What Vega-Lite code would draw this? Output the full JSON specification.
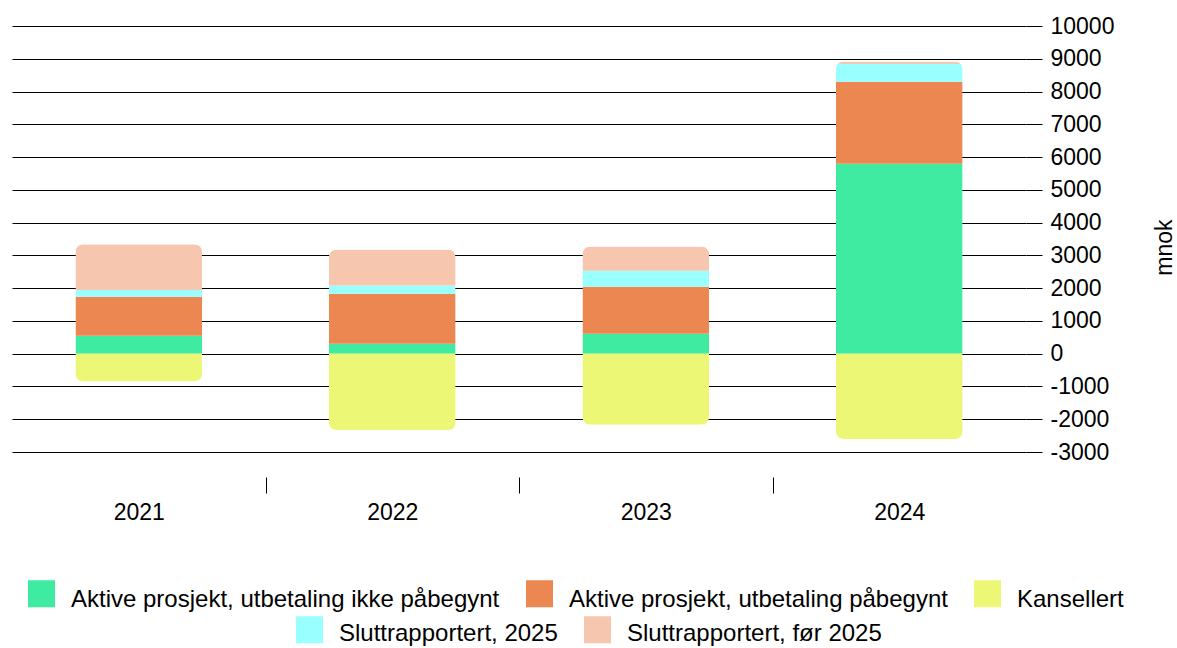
{
  "$schema": "https://vega.github.io/schema/vega-lite/v6.json",
  "width": 1014,
  "height": 426,
  "autosize": {"type": "none"},
  "padding": {"left": 12, "top": 26, "right": 151, "bottom": 196},
  "data": {
    "values": [
      {"year": "2021", "series": "Aktive prosjekt, utbetaling ikke påbegynt", "value": 550},
      {"year": "2021", "series": "Aktive prosjekt, utbetaling påbegynt", "value": 1190},
      {"year": "2021", "series": "Sluttrapportert, 2025", "value": 200},
      {"year": "2021", "series": "Sluttrapportert, før 2025", "value": 1400},
      {"year": "2021", "series": "Kansellert", "value": -850},
      {"year": "2022", "series": "Aktive prosjekt, utbetaling ikke påbegynt", "value": 300},
      {"year": "2022", "series": "Aktive prosjekt, utbetaling påbegynt", "value": 1530},
      {"year": "2022", "series": "Sluttrapportert, 2025", "value": 250},
      {"year": "2022", "series": "Sluttrapportert, før 2025", "value": 1100},
      {"year": "2022", "series": "Kansellert", "value": -2340},
      {"year": "2023", "series": "Aktive prosjekt, utbetaling ikke påbegynt", "value": 610},
      {"year": "2023", "series": "Aktive prosjekt, utbetaling påbegynt", "value": 1430},
      {"year": "2023", "series": "Sluttrapportert, 2025", "value": 490},
      {"year": "2023", "series": "Sluttrapportert, før 2025", "value": 740},
      {"year": "2023", "series": "Kansellert", "value": -2170},
      {"year": "2024", "series": "Aktive prosjekt, utbetaling ikke påbegynt", "value": 5800},
      {"year": "2024", "series": "Aktive prosjekt, utbetaling påbegynt", "value": 2500},
      {"year": "2024", "series": "Sluttrapportert, 2025", "value": 540},
      {"year": "2024", "series": "Sluttrapportert, før 2025", "value": 80},
      {"year": "2024", "series": "Kansellert", "value": -2600}
    ]
  },
  "encoding": {
    "x": {
      "field": "year",
      "type": "nominal",
      "scale": {"paddingInner": 0, "paddingOuter": 0},
      "axis": {
        "title": null,
        "labelAngle": 0,
        "domain": false,
        "offset": 25,
        "tickSize": 16,
        "tickBand": "extent",
        "tickColor": {"condition": {"test": "indexof(['2021','2022','2023'], datum.value) < 0", "value": "transparent"}, "value": "#000000"},
        "labelPadding": 8,
        "grid": false
      }
    },
    "y": {
      "field": "value",
      "type": "quantitative",
      "stack": true,
      "scale": {"domain": [-3000, 10000], "nice": false, "zero": false},
      "axis": {
        "orient": "right",
        "title": "mnok",
        "titleAngle": 270,
        "titlePadding": 63,
        "titleY": 221,
        "values": [-3000, -2000, -1000, 0, 1000, 2000, 3000, 4000, 5000, 6000, 7000, 8000, 9000, 10000],
        "labelExpr": "'' + datum.value",
        "domain": false,
        "grid": true,
        "gridColor": "#000000",
        "gridWidth": 1,
        "tickSize": 16,
        "tickColor": "#000000",
        "labelPadding": 8
      }
    }
  },
  "layer": [
    {
      "mark": {"type": "bar", "cornerRadius": 8, "width": {"band": 0.5}},
      "encoding": {
        "order": {"field": "series", "sort": "ascending"},
        "color": {
          "field": "series",
          "type": "nominal",
          "scale": {
            "domain": ["Aktive prosjekt, utbetaling ikke påbegynt", "Aktive prosjekt, utbetaling påbegynt", "Kansellert", "Sluttrapportert, 2025", "Sluttrapportert, før 2025"],
            "range": ["#3feba0", "#ec8751", "#edf776", "#99ffff", "#f6c6ae"]
          },
          "legend": {
            "values": ["Aktive prosjekt, utbetaling ikke påbegynt", "Aktive prosjekt, utbetaling påbegynt", "Kansellert"],
            "orient": "none",
            "legendX": 16,
            "legendY": 554,
            "direction": "horizontal",
            "title": null,
            "encode": {"labels": {"update": {"dy": {"value": 6}}}}
          }
        }
      }
    },
    {
      "transform": [{"filter": "false"}],
      "mark": {"type": "bar", "width": {"band": 0.5}},
      "encoding": {
        "color": {
          "field": "series",
          "type": "nominal",
          "scale": {
            "domain": ["Aktive prosjekt, utbetaling ikke påbegynt", "Aktive prosjekt, utbetaling påbegynt", "Kansellert", "Sluttrapportert, 2025", "Sluttrapportert, før 2025"],
            "range": ["#3feba0", "#ec8751", "#edf776", "#99ffff", "#f6c6ae"]
          },
          "legend": {
            "values": ["Sluttrapportert, 2025", "Sluttrapportert, før 2025"],
            "orient": "none",
            "legendX": 284,
            "legendY": 590,
            "direction": "horizontal",
            "title": null,
            "encode": {"labels": {"update": {"dy": {"value": 4}}}}
          }
        }
      }
    }
  ],
  "resolve": {"scale": {"color": "independent"}, "legend": {"color": "independent"}},
  "config": {
    "font": "Liberation Sans",
    "view": {"stroke": null},
    "axis": {
      "labelFont": "Liberation Sans",
      "labelFontSize": 23,
      "labelColor": "#000000",
      "titleFont": "Liberation Sans",
      "titleFontSize": 23,
      "titleFontWeight": "normal",
      "titleColor": "#000000"
    },
    "legend": {
      "labelFont": "Liberation Sans",
      "labelFontSize": 24,
      "labelColor": "#000000",
      "labelLimit": 0,
      "symbolType": "square",
      "symbolSize": 729,
      "symbolStrokeWidth": 0,
      "symbolOpacity": 1,
      "labelOffset": 16,
      "columnPadding": 26,
      "padding": 0
    }
  }
}
